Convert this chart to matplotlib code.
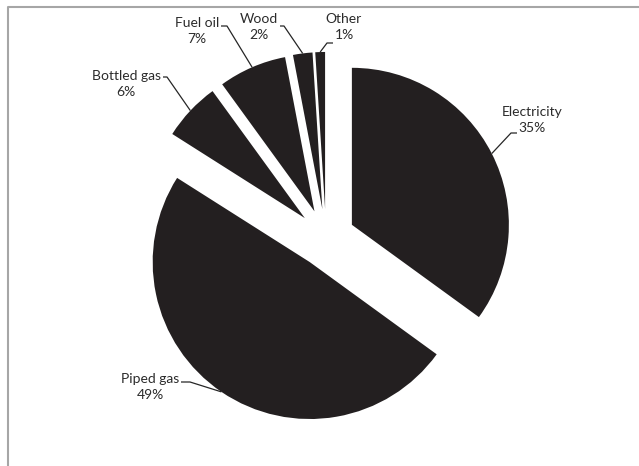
import matplotlib.pyplot as plt
from matplotlib.lines import Line2D
import numpy as np

# household heating fuel shares (%)
fuels = ['Electricity', 'Piped gas', 'Bottled gas', 'Fuel oil', 'Wood', 'Other']
shares = [35, 49, 6, 7, 2, 1]

# label block centres and leader elbows, in pixels from the top-left corner
label_xy = [(532, 120), (150, 387), (126, 84), (197, 31), (259, 27), (344, 27)]
elbow_xy = [(511, 133), (190, 382), (167, 77), (227, 26), (284, 26), (327, 43)]
text_end_xy = [(517, 133), (181, 382), (163, 77), (221, 26), (280, 26), (333, 43)]

W, H = 639, 466
R_PX = 157.0
CX, CY = 326.0, 238.0

pie_color = '#231f20'
text_color = '#2b2b2b'
plt.rcParams['font.family'] = ['Lato', 'DejaVu Sans']

fig = plt.figure(figsize=(W / 100, H / 100), dpi=100)
ax = fig.add_axes([0, 0, 1, 1])


def px(x, y):
    # pixel position -> data units (pie radius = 1)
    return (x - CX) / R_PX, (CY - y) / R_PX


wedges, _ = ax.pie(shares, startangle=90, counterclock=False,
                   explode=[0.185] * len(shares), colors=[pie_color] * len(shares),
                   radius=1.0)

for w, name, val, lxy, exy, txy in zip(wedges, fuels, shares, label_xy, elbow_xy, text_end_xy):
    mid = np.deg2rad((w.theta1 + w.theta2) / 2)
    cx, cy = w.center
    arc = (cx + w.r * np.cos(mid), cy + w.r * np.sin(mid))
    ex, ey = px(*exy)
    tx, ty = px(*txy)
    ax.plot([arc[0], ex, tx], [arc[1], ey, ty], color='#262626', lw=0.9,
            solid_capstyle='butt')
    ax.text(*px(*lxy), f'{name}\n{val}%', ha='center', va='center',
            fontsize=10, color=text_color, linespacing=1.45)

ax.set_xlim(-CX / R_PX, (W - CX) / R_PX)
ax.set_ylim(-(H - CY) / R_PX, CY / R_PX)
ax.set_aspect('auto')
ax.axis('off')

# chart area border along the top and left
fx0, fy0 = 7.5 / W, 1 - 6.5 / H
fig.add_artist(Line2D([fx0, fx0, 1.0], [0.0, fy0, fy0], transform=fig.transFigure,
                      color='#a6a6a6', lw=1.5))

fig.savefig('out.png', dpi=100)
